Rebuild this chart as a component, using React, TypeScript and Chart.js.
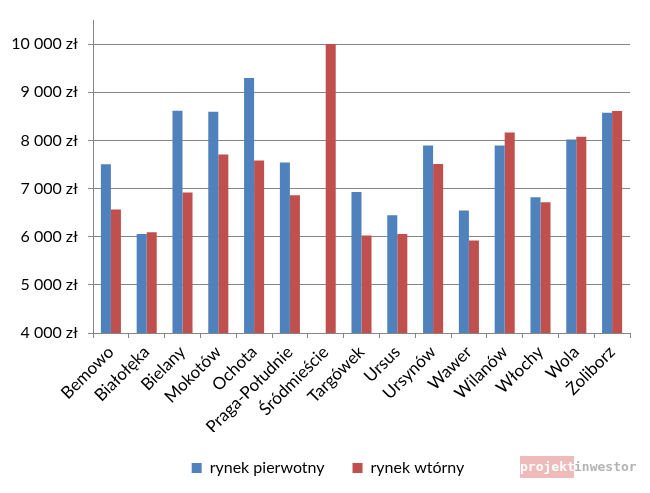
import React, { useEffect, useRef } from 'react';
import { Chart, registerables } from 'chart.js';

Chart.register(...registerables);

const categories = [
  'Bemowo', 'Białołęka', 'Bielany', 'Mokotów', 'Ochota', 'Praga-Południe', 'Śródmieście',
  'Targówek', 'Ursus', 'Ursynów', 'Wawer', 'Wilanów', 'Włochy', 'Wola', 'Żoliborz',
];
const primaryMarket: (number | null)[] = [
  7505, 6058, 8615, 8595, 9295, 7540, null, 6930, 6446, 7895, 6543, 7895, 6820, 8019, 8574,
];
const secondaryMarket: (number | null)[] = [
  6564, 6093, 6918, 7708, 7583, 6862, 10000, 6024, 6058, 7507, 5920, 8165, 6717, 8075, 8608,
];
const seriesLabels = ['rynek pierwotny', 'rynek wtórny'];
const yTickValues = [4000, 5000, 6000, 7000, 8000, 9000, 10000];
const yMin = 4000;
const yMax = 10500;

const FONT = 'Lato, "Open Sans", sans-serif';
const GRID = '#868686';

const formatZl = (v: number) =>
  String(Math.round(v)).replace(/\B(?=(\d{3})+(?!\d))/g, ' ') + ' zł';

// shifts the centred legend row slightly to the right, as in the reference
const legendShift = {
  id: 'legendShift',
  afterLayout(chart: any) {
    if (chart.legend) {
      chart.legend.left += 13;
      chart.legend.right += 13;
    }
  },
};

export default function App() {
  const ref = useRef<HTMLCanvasElement | null>(null);

  useEffect(() => {
    if (!ref.current) return;
    const chart = new Chart(ref.current, {
      type: 'bar',
      data: {
        labels: categories,
        datasets: [
          {
            label: seriesLabels[0],
            data: primaryMarket,
            backgroundColor: '#4F81BD',
            barPercentage: 1,
            categoryPercentage: 0.56,
          },
          {
            label: seriesLabels[1],
            data: secondaryMarket,
            backgroundColor: '#C0504D',
            barPercentage: 1,
            categoryPercentage: 0.56,
          },
        ],
      },
      plugins: [legendShift],
      options: {
        animation: false,
        responsive: true,
        maintainAspectRatio: false,
        layout: { padding: { left: 0, right: 20, top: 20, bottom: 7 } },
        plugins: {
          tooltip: { enabled: false },
          legend: {
            position: 'bottom',
            labels: {
              boxWidth: 10,
              boxHeight: 10,
              padding: 28,
              color: '#000',
              font: { family: FONT, size: 16 },
            },
          },
        },
        scales: {
          x: {
            grid: {
              drawOnChartArea: false,
              drawTicks: true,
              tickLength: 5,
              color: GRID,
              offset: true,
            },
            border: { color: GRID },
            ticks: {
              autoSkip: false,
              maxRotation: 45,
              minRotation: 45,
              color: '#000',
              padding: 4,
              font: { family: FONT, size: 17 },
            },
            afterFit: (s: any) => {
              s.height = 99;
            },
          },
          y: {
            min: yMin,
            max: yMax,
            ticks: {
              color: '#000',
              padding: 10,
              font: { family: FONT, size: 16 },
              callback: (v: any) => formatZl(Number(v)),
            },
            afterBuildTicks: (axis: any) => {
              axis.ticks = yTickValues.map((value) => ({ value }));
            },
            grid: { color: GRID, tickLength: 5 },
            border: { color: GRID },
            afterFit: (s: any) => {
              s.width = 93;
            },
          },
        },
      },
    });
    return () => chart.destroy();
  }, []);

  return (
    <div style={{ position: 'fixed', left: 0, top: 0, width: 650, height: 493, background: '#fff' }}>
      <canvas ref={ref} />
      <div
        style={{
          position: 'absolute',
          left: 520,
          top: 456,
          height: 22,
          display: 'flex',
          alignItems: 'center',
          fontFamily: '"DejaVu Sans Mono", monospace',
          fontWeight: 'bold',
          fontSize: 13,
          lineHeight: '22px',
        }}
      >
        <span style={{ background: '#EEBABA', color: '#fff', width: 54, display: 'inline-block', textAlign: 'right' }}>projekt</span>
        <span style={{ color: '#B4B4B4' }}>inwestor</span>
      </div>
    </div>
  );
}
